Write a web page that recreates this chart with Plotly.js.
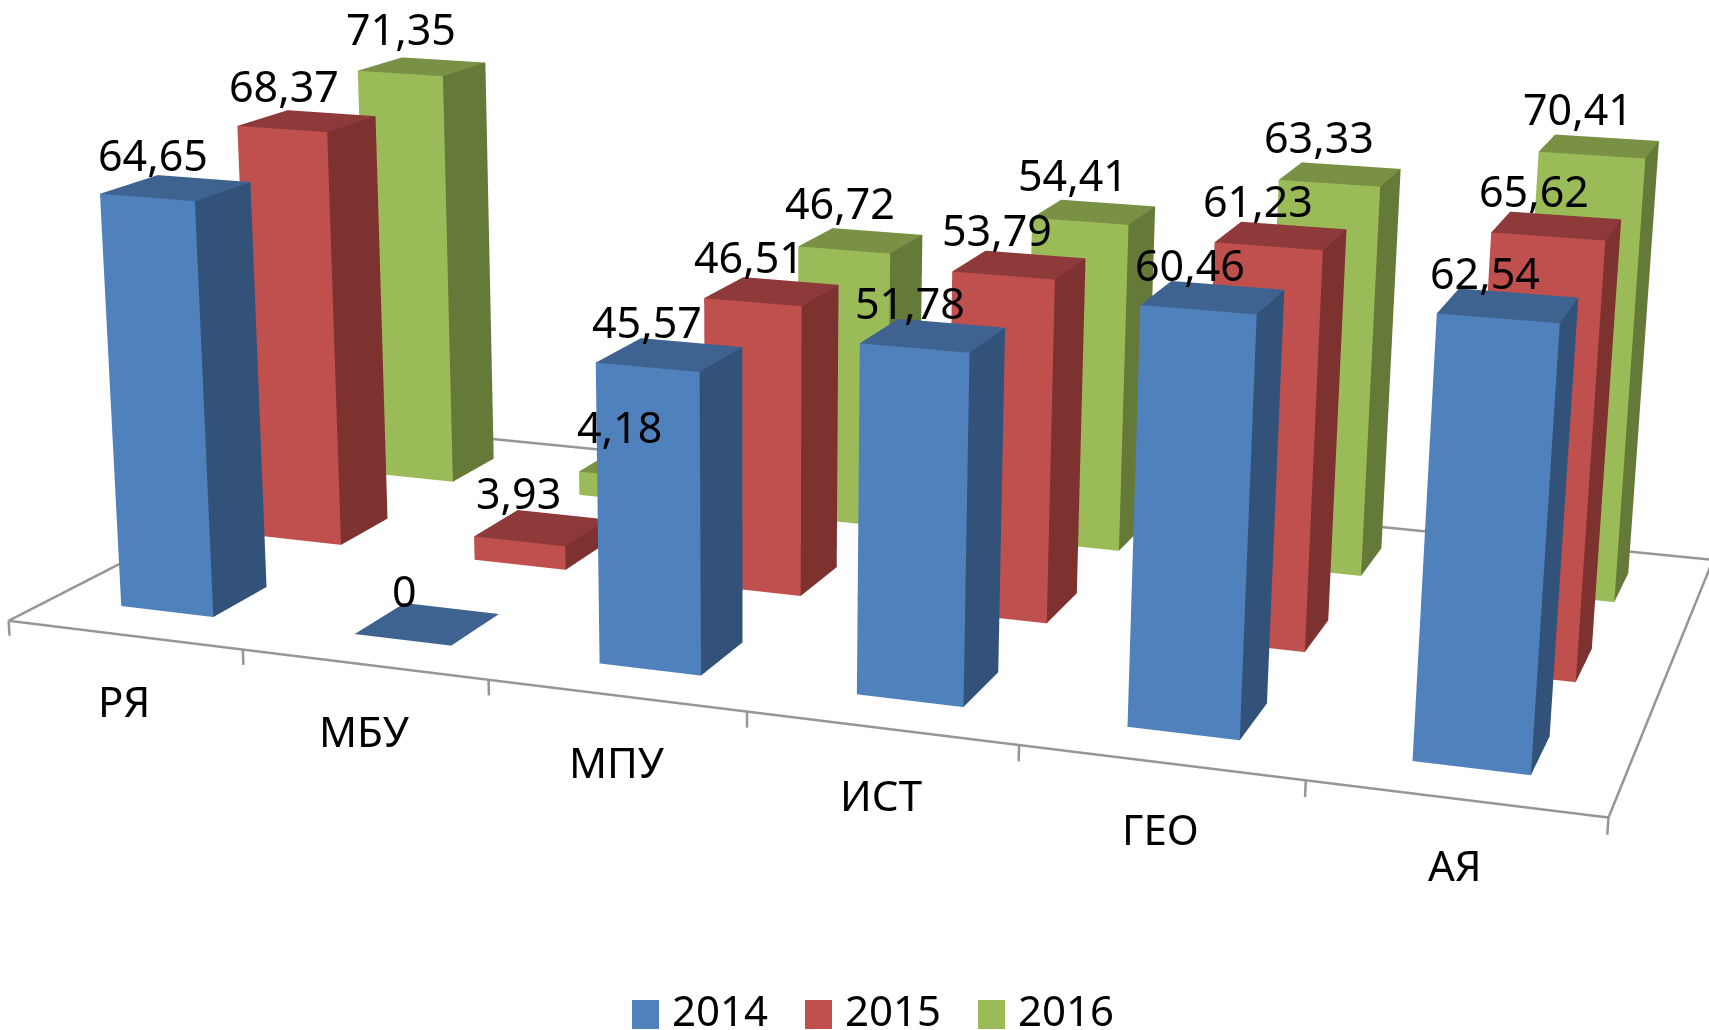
<!DOCTYPE html>
<html><head><meta charset="utf-8">
<style>html,body{margin:0;padding:0;width:1709px;height:1030px;overflow:hidden;background:#fff}#plot{position:absolute;left:0}</style>
<script src="https://cdn.plot.ly/plotly-3.0.1.min.js"></script>
</head><body><div id="plot"></div>
<script>
const categories = ['РЯ','МБУ','МПУ','ИСТ','ГЕО','АЯ'];
const seriesNames = ['2014','2015','2016'];
const values2014 = [64.65,0,45.57,51.78,60.46,62.54];
const values2015 = [68.37,3.93,46.51,53.79,61.23,65.62];
const values2016 = [71.35,4.18,46.72,54.41,63.33,70.41];
const allValues = [values2014,values2015,values2016];
const frontColors = ['#4F81BD','#C0504D','#9BBB59'];
const sideColors  = ['#32527A','#7D3230','#657A38'];
const topColors   = ['#3E6390','#8F3A3A','#7A9045'];

const W=1709, VIEW_H=1030, H=2900, T=(H-VIEW_H)/2;
const FONT='"Noto Sans",sans-serif';
const Lx=1.395, Ly=0.732, zs=0.00578, zMin=-4, zMax=80;
const GAP=0.3;
const YAW=19.2*Math.PI/180, PITCH=15.8*Math.PI/180, DIST=3.127, ROLL=0.008;
const TARGET=[0.6829,0.3058,0.085];
const F=[-Math.sin(YAW)*Math.cos(PITCH),Math.cos(YAW)*Math.cos(PITCH),-Math.sin(PITCH)];
const R=[Math.cos(YAW),Math.sin(YAW),0];
const U=[R[1]*F[2]-R[2]*F[1],R[2]*F[0]-R[0]*F[2],R[0]*F[1]-R[1]*F[0]];
const UP=U.map((u,i)=>u-ROLL*R[i]);
const E=TARGET.map((t,i)=>t-F[i]*DIST);
const CUBE=[Lx,Ly,(zMax-zMin)*zs];
const mid=[Lx/2,Ly/2,(zMax+zMin)/2*zs];
const LABEL_DX=[-23,-23,-21];
const LABEL_DY=[33,35,38];

const traces=[];
allValues.forEach((vals,s)=>{
  const x=[],y=[],z=[],i=[],j=[],k=[],fc=[];
  vals.forEach((v,c)=>{
    const x0=c+GAP,x1=c+1-GAP,y0=s+GAP,y1=s+1-GAP,n=x.length;
    [[x0,y0,0],[x1,y0,0],[x1,y0,v],[x0,y0,v],[x1,y1,0],[x1,y1,v],[x0,y1,v]].forEach(p=>{x.push(p[0]);y.push(p[1]);z.push(p[2]);});
    const tris=[[0,1,2,frontColors[s]],[0,2,3,frontColors[s]],[1,4,5,sideColors[s]],[1,5,2,sideColors[s]],[3,2,5,topColors[s]],[3,5,6,topColors[s]]];
    tris.forEach(t=>{i.push(n+t[0]);j.push(n+t[1]);k.push(n+t[2]);fc.push(t[3]);});
  });
  traces.push({type:'mesh3d',name:seriesNames[s],x,y,z,i,j,k,facecolor:fc,flatshading:true,
    lighting:{ambient:1,diffuse:0,specular:0,roughness:1,fresnel:0},hoverinfo:'skip',showscale:false});
});
const lx=[0,6,6,0,0],ly=[0,0,3,3,0],lz=[0,0,0,0,0];
for(let c=0;c<=6;c++){lx.push(null,c,c);ly.push(null,0,0);lz.push(null,0,-2.4);}
traces.push({type:'scatter3d',mode:'lines',x:lx,y:ly,z:lz,line:{color:'#969696',width:5},hoverinfo:'skip',showlegend:false,connectgaps:false});

const ann=[];
categories.forEach((c,i)=>ann.push({x:i+0.5,y:0,z:0,text:c,showarrow:false,yshift:-66,font:{family:FONT,size:42,color:'#000'}}));
allValues.forEach((vals,s)=>vals.forEach((v,c)=>ann.push({x:c+0.5,y:s+0.5,z:v,text:String(v).replace('.',','),showarrow:false,xshift:LABEL_DX[s],yshift:LABEL_DY[s],font:{family:FONT,size:43,color:'#000'}})));

const px=x=>x/W, py=y=>1-(y+T)/H;
const shapes=[],pageAnn=[];
const legendX=[632,805,978];
seriesNames.forEach((n,s)=>{
  shapes.push({type:'rect',xref:'paper',yref:'paper',x0:px(legendX[s]),x1:px(legendX[s]+27),y0:py(1000),y1:py(1029),fillcolor:frontColors[s],line:{width:0}});
  pageAnn.push({xref:'paper',yref:'paper',x:px(legendX[s]+38),y:py(1009),xanchor:'left',yanchor:'middle',showarrow:false,text:n,font:{family:FONT,size:42,color:'#000'}});
});

const eye=E.map((e,i)=>e-mid[i]);
const center=eye.map((e,i)=>e+F[i]*DIST);
const layout={width:W,height:H,margin:{l:0,r:0,t:0,b:0},paper_bgcolor:'#fff',showlegend:false,shapes,annotations:pageAnn,
 scene:{domain:{x:[0,1],y:[0,1]},aspectmode:'manual',aspectratio:{x:CUBE[0],y:CUBE[1],z:CUBE[2]},
  camera:{eye:{x:eye[0],y:eye[1],z:eye[2]},center:{x:center[0],y:center[1],z:center[2]},up:{x:UP[0],y:UP[1],z:UP[2]},projection:{type:'perspective'}},
  xaxis:{range:[0,6],visible:false},yaxis:{range:[0,3],visible:false},zaxis:{range:[zMin,zMax],visible:false},annotations:ann}};
const el=document.getElementById('plot');el.style.top=(-T)+'px';
Plotly.newPlot(el,traces,layout,{displayModeBar:false});
</script></body></html>
